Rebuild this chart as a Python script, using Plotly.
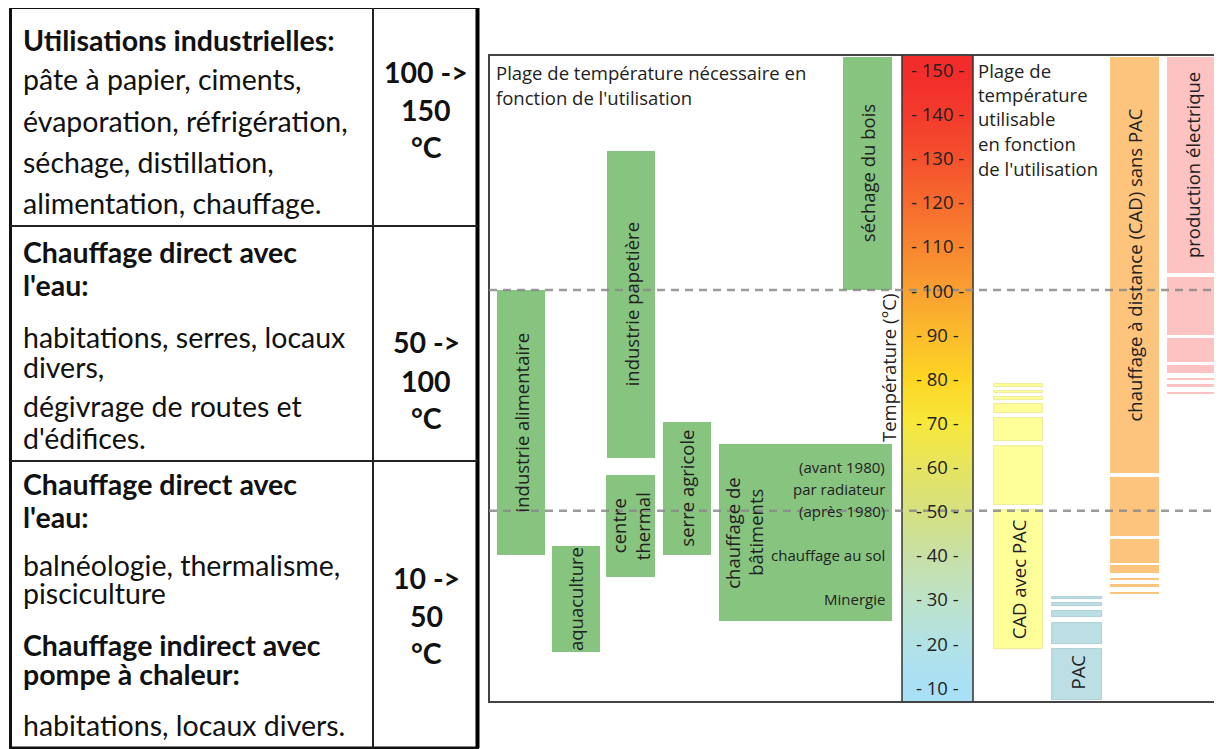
import numpy as np
import plotly.graph_objects as go

# page body has an 8px margin: the figure is drawn from screen (8, 8)
OFF = 8
SCREEN_W, SCREEN_H = 1222, 749
W, H = SCREEN_W - OFF, SCREEN_H - OFF

# ---------------- data ----------------
# left table
row_texts = [
    [("Utilisations industrielles:", True), ("pâte à papier, ciments,", False),
     ("évaporation, réfrigération,", False), ("séchage, distillation,", False),
     ("alimentation, chauffage.", False)],
    [("Chauffage direct avec", True), ("l'eau:", True),
     ("habitations, serres, locaux", False), ("divers,", False),
     ("dégivrage de routes et", False), ("d'édifices.", False)],
    [("Chauffage direct avec", True), ("l'eau:", True),
     ("balnéologie, thermalisme,", False), ("pisciculture", False),
     ("Chauffage indirect avec", True), ("pompe à chaleur:", True),
     ("habitations, locaux divers.", False)],
]
range_texts = [["100 ->", "150", "°C"], ["50 ->", "100", "°C"], ["10 ->", "50", "°C"]]

# required temperature ranges by usage (°C)
usage_names = ["industrie alimentaire", "aquaculture", "industrie papetière",
               "centre thermal", "serre agricole", "chauffage de bâtiments",
               "séchage du bois"]
usage_low = [40, 18, 62, 35, 40, 25, 100]
usage_high = [100, 42, 131.5, 58, 70, 65, 152.7]

building_labels = ["(avant 1980)", "par radiateur", "(après 1980)",
                   "chauffage au sol", "Minergie"]
building_temps = [60, 55, 50, 40, 30]

# usable temperature ranges (segments, °C)
cad_pac_low = [18.6, 51.2, 65.8, 72.1, 75.1, 76.6, 78.1]
cad_pac_high = [50.1, 64.7, 71.1, 74.1, 75.7, 77.2, 78.7]
pac_low = [7.1, 19.8, 25.9, 28.3, 29.9]
pac_high = [18.6, 24.6, 27.3, 29.0, 30.4]
cad_sans_low = [58.6, 44.3, 38.2, 36.0, 34.3, 32.8, 31.1]
cad_sans_high = [152.7, 57.7, 43.7, 37.7, 34.8, 33.4, 31.6]
prod_low = [103.9, 89.8, 83.8, 81.3, 79.6, 78.1, 76.4]
prod_high = [152.7, 103.0, 89.1, 83.0, 80.1, 78.7, 76.9]

temp_ticks = [10, 20, 30, 40, 50, 60, 70, 80, 90, 100, 110, 120, 130, 140, 150]
ref_lines = [100, 50]

# ---------------- layout helpers (screen pixel -> paper) ----------------
def px(x):
    return (x - OFF) / W

def py(y):
    return 1 - (y - OFF) / H

# chart area in screen pixels
CH_L, CH_T, CH_B = 489, 55, 702
PX_PER_DEG = 4.414
Y100 = 290.0
T_BOT = 100 - (CH_B - Y100) / PX_PER_DEG
T_TOP = 100 + (Y100 - CH_T) / PX_PER_DEG

def ytemp(y):
    return 100 - (y - Y100) / PX_PER_DEG

TABLE_FONT = "Lato"
CHART_FONT = "Open Sans"
TXT = "#222222"
CFS = 18.5  # chart font size

fig = go.Figure()

# ---------------- gradient temperature bar ----------------
edges = np.linspace(T_BOT, T_TOP, 301)
mids = (edges[:-1] + edges[1:]) / 2
grad_scale_pts = [
    (10, "#a9e0f6"), (20, "#b2e2e6"), (30, "#bde2c8"), (40, "#c8e0a6"),
    (50, "#d5e080"), (60, "#e6e460"), (70, "#f7e83a"), (80, "#fdd524"),
    (90, "#fbbb2c"), (100, "#f9a030"), (110, "#f8852f"), (120, "#f66a2e"),
    (130, "#f4502d"), (140, "#f33a2c"), (150, "#f22b2b"),
]
cs = [[(t - 10) / 140, c] for t, c in grad_scale_pts]
fig.add_trace(go.Heatmap(
    x=[902, 973], y=edges, z=[[min(max(m, 10), 150)] for m in mids],
    colorscale=cs, zmin=10, zmax=150, showscale=False, zsmooth="best",
    hoverinfo="skip"))

# ---------------- bars ----------------
usage_x = [521, 576, 631, 630.5, 687, 805.5, 867.5]
usage_w = [48, 48, 48, 49, 48, 173, 49]
GREEN = "#87c47f"
fig.add_trace(go.Bar(
    x=usage_x, base=usage_low,
    y=[h - l for l, h in zip(usage_low, usage_high)],
    width=usage_w, marker=dict(color=GREEN, line=dict(width=0)),
    hovertext=usage_names, hoverinfo="text", showlegend=False))

def seg_trace(xc, w, lows, highs, color, lc, lw):
    return go.Bar(
        x=[xc] * len(lows), base=lows,
        y=[h - l for l, h in zip(lows, highs)],
        width=[w] * len(lows),
        marker=dict(color=color, line=dict(color=lc, width=lw)),
        hoverinfo="skip", showlegend=False)

fig.add_trace(seg_trace(1018.5, 49, cad_pac_low, cad_pac_high, "#ffff99", "#e6e68a", 0.8))
fig.add_trace(seg_trace(1077, 50, pac_low, pac_high, "#bbdfe4", "#9ec6cc", 0.8))
fig.add_trace(seg_trace(1134.5, 49, cad_sans_low, cad_sans_high, "#fdc47d", "#fdc47d", 0))
fig.add_trace(seg_trace(1192, 50, prod_low, prod_high, "#fdc2c2", "#fdc2c2", 0))

# ---------------- annotations ----------------
ann = []

def a_data(x, y, text, size=CFS, angle=0, xanchor="center", yanchor="middle",
           color=TXT, font=CHART_FONT):
    ann.append(dict(x=x, y=y, xref="x", yref="y", text=text, showarrow=False,
                    textangle=angle, xanchor=xanchor, yanchor=yanchor,
                    font=dict(family=font, size=size, color=color)))

def a_pix(x, y, text, size=16, bold=False, xanchor="left", font=TABLE_FONT,
          color="#111111"):
    t = f"<b>{text}</b>" if bold else text
    ann.append(dict(x=px(x), y=py(y), xref="paper", yref="paper", text=t,
                    showarrow=False, xanchor=xanchor, yanchor="middle",
                    font=dict(family=font, size=size, color=color)))

# usage labels (rotated)
mid = lambda i: (usage_low[i] + usage_high[i]) / 2
a_data(usage_x[0], mid(0), usage_names[0], angle=-90)
a_data(usage_x[1], mid(1), usage_names[1], angle=-90)
a_data(usage_x[2], mid(2), usage_names[2], angle=-90)
a_data(618, mid(3), "centre", angle=-90)
a_data(642, mid(3), "thermal", angle=-90)
a_data(usage_x[4], mid(4), usage_names[4], angle=-90)
a_data(733, mid(5), "chauffage de", angle=-90)
a_data(756, mid(5), "bâtiments", angle=-90)
a_data(usage_x[6], mid(6), usage_names[6], angle=-90)
for lab, t in zip(building_labels, building_temps):
    a_data(887, t, lab, size=15, xanchor="right")

# usable labels
a_data(1018.5, (cad_pac_low[0] + cad_pac_high[0]) / 2, "CAD avec PAC", angle=-90)
a_data(1077, (pac_low[0] + pac_high[0]) / 2 + 0.5, "PAC", angle=-90)
a_data(1134.5, (cad_sans_low[0] + cad_sans_high[0]) / 2,
       "chauffage à distance (CAD) sans PAC", angle=-90)
a_data(1192, (prod_low[0] + prod_high[0]) / 2, "production électrique", angle=-90)

# gradient tick labels
for t in temp_ticks:
    a_data(937.5, t, f"- {t} -", size=CFS)
a_data(888, ytemp(368), "Température (°C)", angle=-90)

# chart titles
for i, line in enumerate(["Plage de température nécessaire en",
                          "fonction de l'utilisation"]):
    a_pix(494, 72 + 25 * i, line, size=CFS, font=CHART_FONT, color=TXT)
for i, line in enumerate(["Plage de", "température", "utilisable",
                          "en fonction", "de l'utilisation"]):
    a_pix(976, 70 + 24.5 * i, line, size=CFS, font=CHART_FONT, color=TXT)

# table texts
TFS = 28.5
row_line_y = [
    [40, 79, 121, 162, 203],
    [252, 285, 337, 367, 406, 438],
    [484, 517, 565, 593, 645, 674, 725],
]
for texts, ys in zip(row_texts, row_line_y):
    for (t, b), y in zip(texts, ys):
        a_pix(21, y, t, size=TFS, bold=b)
range_y = [[72, 110, 147], [342, 381, 418], [578, 616, 653]]
for texts, ys in zip(range_texts, range_y):
    for t, y in zip(texts, ys):
        a_pix(426, y, t, size=TFS, bold=True, xanchor="center")

# ---------------- shapes ----------------
shapes = []
# table
shapes.append(dict(type="rect", xref="paper", yref="paper",
                   x0=px(10.5), x1=px(477.5), y0=py(748), y1=py(7.5),
                   line=dict(color="#111111", width=3)))
shapes.append(dict(type="line", xref="paper", yref="paper",
                   x0=px(477.5), x1=px(477.5), y0=py(748), y1=py(7.5),
                   line=dict(color="#000000", width=4)))
shapes.append(dict(type="line", xref="paper", yref="paper",
                   x0=px(373), x1=px(373), y0=py(748), y1=py(7.5),
                   line=dict(color="#222222", width=2)))
for yy in [226, 461]:
    shapes.append(dict(type="line", xref="paper", yref="paper",
                       x0=px(10.5), x1=px(477.5), y0=py(yy), y1=py(yy),
                       line=dict(color="#222222", width=2)))
# chart frame
shapes.append(dict(type="rect", xref="paper", yref="paper",
                   x0=px(CH_L), x1=px(1240), y0=py(CH_B), y1=py(CH_T),
                   line=dict(color="#444444", width=2), layer="above"))
# gradient column borders
for xx in [902, 973]:
    shapes.append(dict(type="line", xref="x", yref="y", x0=xx, x1=xx,
                       y0=T_BOT, y1=T_TOP, line=dict(color="#333333", width=1.5),
                       layer="above"))
# dashed reference lines
for t in ref_lines:
    shapes.append(dict(type="line", xref="x", yref="y", x0=CH_L, x1=SCREEN_W,
                       y0=t, y1=t, layer="above", opacity=0.85,
                       line=dict(color="#8a8a8a", width=2.5, dash="8px,6px")))

fig.update_layout(
    width=W, height=H, margin=dict(l=0, r=0, t=0, b=0),
    paper_bgcolor="white", plot_bgcolor="white",
    barmode="overlay", bargap=0, showlegend=False,
    xaxis=dict(domain=[px(CH_L), 1], range=[CH_L, SCREEN_W], visible=False,
               fixedrange=True),
    yaxis=dict(domain=[py(CH_B), py(CH_T)], range=[T_BOT, T_TOP],
               visible=False, fixedrange=True),
    annotations=ann, shapes=shapes,
)

fig.write_html("out.html")
